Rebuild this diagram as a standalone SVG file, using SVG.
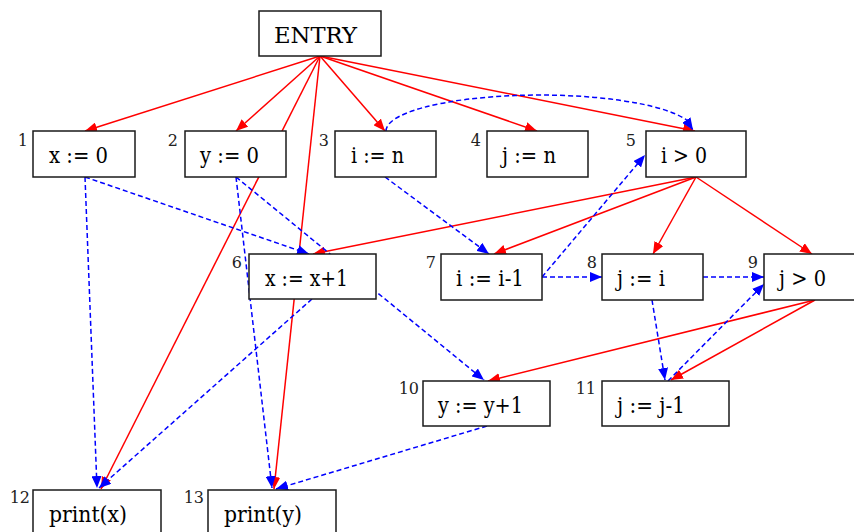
<svg xmlns="http://www.w3.org/2000/svg" width="854" height="532" viewBox="0 0 854 532">
<style>
  .box { fill: #ffffff; stroke: #1a1a1a; stroke-width: 1.5; }
  .lbl { font-family: "DejaVu Serif", serif; font-size: 23px; fill: #000; }
  .num { font-family: "DejaVu Serif", serif; font-size: 16px; fill: #222; text-anchor: end; }
  .cd { fill: none; stroke: #ff0000; stroke-width: 1.5; marker-end: url(#ar); }
  .dd { fill: none; stroke: #0000ff; stroke-width: 1.5; stroke-dasharray: 5,3; marker-end: url(#ab); }
</style>
<defs>
  <marker id="ar" markerUnits="userSpaceOnUse" markerWidth="13" markerHeight="10" refX="12" refY="5" orient="auto">
    <path d="M0,0 L12,5 L0,10 z" fill="#ff0000"/>
  </marker>
  <marker id="ab" markerUnits="userSpaceOnUse" markerWidth="13" markerHeight="10" refX="12" refY="5" orient="auto">
    <path d="M0,0 L12,5 L0,10 z" fill="#0000ff"/>
  </marker>
</defs>
<rect width="854" height="532" fill="#ffffff"/>

<g id="connectors">
  <line class="cd" x1="320" y1="56" x2="85" y2="131"/>
  <line class="cd" x1="320" y1="56" x2="236" y2="131"/>
  <line class="cd" x1="320" y1="56" x2="385" y2="131"/>
  <line class="cd" x1="320" y1="56" x2="537" y2="131"/>
  <line class="cd" x1="320" y1="56" x2="695" y2="131"/>
  <line class="cd" x1="320" y1="56" x2="101" y2="489"/>
  <line class="cd" x1="320" y1="56" x2="274" y2="489"/>
  <line class="cd" x1="696" y1="177" x2="313" y2="254"/>
  <line class="cd" x1="696" y1="177" x2="494" y2="254"/>
  <line class="cd" x1="696" y1="177" x2="653" y2="254"/>
  <line class="cd" x1="696" y1="177" x2="812" y2="254"/>
  <line class="cd" x1="815" y1="300" x2="488" y2="381"/>
  <line class="cd" x1="815" y1="300" x2="671" y2="380"/>

  <path class="dd" d="M386,131 A154,36 0 0 1 686,119.6 L693,130"/>
  <line class="dd" x1="85" y1="177" x2="97" y2="488"/>
  <line class="dd" x1="85" y1="177" x2="309" y2="254"/>
  <line class="dd" x1="236" y1="177" x2="272" y2="488"/>
  <line class="dd" x1="236" y1="177" x2="484" y2="380"/>
  <line class="dd" x1="385" y1="177" x2="489" y2="254"/>
  <line class="dd" x1="312" y1="299" x2="99" y2="488"/>
  <line class="dd" x1="542" y1="277" x2="602" y2="277"/>
  <line class="dd" x1="542" y1="277" x2="645" y2="155"/>
  <line class="dd" x1="703" y1="277" x2="764" y2="277"/>
  <line class="dd" x1="652" y1="300" x2="665" y2="380"/>
  <line class="dd" x1="668" y1="381" x2="764" y2="284"/>
  <line class="dd" x1="487" y1="426" x2="276" y2="489"/>
</g>

<g id="entry">
  <rect class="box" x="259" y="11" width="122" height="45"/>
  <text class="lbl" x="274" y="42.5" textLength="83" lengthAdjust="spacingAndGlyphs">ENTRY</text>
</g>
<g id="n1">
  <rect class="box" x="33" y="131" width="102" height="46"/>
  <text class="num" x="28" y="146">1</text>
  <text class="lbl" x="49" y="163" textLength="59" lengthAdjust="spacingAndGlyphs">x := 0</text>
</g>
<g id="n2">
  <rect class="box" x="185" y="131" width="101" height="46"/>
  <text class="num" x="178" y="146">2</text>
  <text class="lbl" x="200" y="163" textLength="59" lengthAdjust="spacingAndGlyphs">y := 0</text>
</g>
<g id="n3">
  <rect class="box" x="335" y="131" width="101" height="46"/>
  <text class="num" x="329" y="146">3</text>
  <text class="lbl" x="351" y="163" textLength="53" lengthAdjust="spacingAndGlyphs">i := n</text>
</g>
<g id="n4">
  <rect class="box" x="487" y="131" width="101" height="46"/>
  <text class="num" x="481" y="146">4</text>
  <text class="lbl" x="502" y="163" textLength="54" lengthAdjust="spacingAndGlyphs">j := n</text>
</g>
<g id="n5">
  <rect class="box" x="646" y="131" width="100" height="46"/>
  <text class="num" x="636" y="146">5</text>
  <text class="lbl" x="661" y="163" textLength="46" lengthAdjust="spacingAndGlyphs">i &gt; 0</text>
</g>
<g id="n6">
  <rect class="box" x="249" y="254" width="127" height="45"/>
  <text class="num" x="242" y="268">6</text>
  <text class="lbl" x="265" y="286" textLength="83" lengthAdjust="spacingAndGlyphs">x := x+1</text>
</g>
<g id="n7">
  <rect class="box" x="441" y="254" width="101" height="46"/>
  <text class="num" x="436" y="268">7</text>
  <text class="lbl" x="456" y="286" textLength="68" lengthAdjust="spacingAndGlyphs">i := i-1</text>
</g>
<g id="n8">
  <rect class="box" x="602" y="254" width="101" height="46"/>
  <text class="num" x="597" y="268">8</text>
  <text class="lbl" x="617" y="286" textLength="48" lengthAdjust="spacingAndGlyphs">j := i</text>
</g>
<g id="n9">
  <rect class="box" x="764" y="254" width="101" height="46"/>
  <text class="num" x="758" y="268">9</text>
  <text class="lbl" x="779" y="286" textLength="47" lengthAdjust="spacingAndGlyphs">j &gt; 0</text>
</g>
<g id="n10">
  <rect class="box" x="423" y="381" width="127" height="45"/>
  <text class="num" x="419" y="394">10</text>
  <text class="lbl" x="438" y="413" textLength="85" lengthAdjust="spacingAndGlyphs">y := y+1</text>
</g>
<g id="n11">
  <rect class="box" x="602" y="381" width="127" height="45"/>
  <text class="num" x="596" y="394">11</text>
  <text class="lbl" x="617" y="413" textLength="68" lengthAdjust="spacingAndGlyphs">j := j-1</text>
</g>
<g id="n12">
  <rect class="box" x="33" y="490" width="128" height="50"/>
  <text class="num" x="30" y="503">12</text>
  <text class="lbl" x="49" y="522" textLength="78" lengthAdjust="spacingAndGlyphs">print(x)</text>
</g>
<g id="n13">
  <rect class="box" x="208" y="490" width="128" height="50"/>
  <text class="num" x="204" y="503">13</text>
  <text class="lbl" x="224" y="522" textLength="78" lengthAdjust="spacingAndGlyphs">print(y)</text>
</g>
</svg>
